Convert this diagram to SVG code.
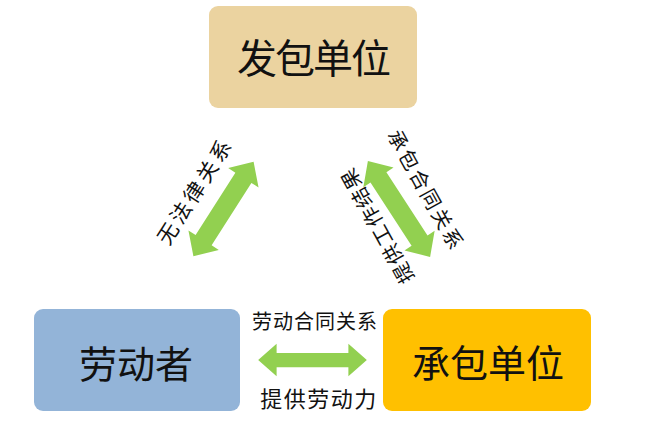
<svg xmlns="http://www.w3.org/2000/svg" width="660" height="421" viewBox="0 0 660 421">
  <style>
    .box-text { font-family: "Noto Sans CJK SC", "Noto Sans", sans-serif; fill: #111; text-anchor: middle; dominant-baseline: central; }
    .label { font-family: "Noto Sans CJK SC", "Noto Sans", sans-serif; fill: #111; text-anchor: middle; dominant-baseline: central; }
    .arrow { fill: #92D050; }
  </style>
  <defs>
    <path id="dbl" d="M-56,0 L-37,-17 L-37,-7.5 L37,-7.5 L37,-17 L56,0 L37,17 L37,7.5 L-37,7.5 L-37,17 Z"/>
    <path id="dbl-diag" d="M-56,0 L-37,-18 L-37,-9.5 L37,-9.5 L37,-18 L56,0 L37,18 L37,9.5 L-37,9.5 L-37,18 Z"/>
  </defs>
  <rect width="660" height="421" fill="#ffffff"/>

  <g id="node-fabao">
    <rect x="209" y="6" width="208" height="102" rx="9" fill="#EBD3A0"/>
    <text class="box-text" x="313" y="56" font-size="40" letter-spacing="-2">发包单位</text>
  </g>

  <g id="node-laodongzhe">
    <rect x="34" y="309" width="206" height="102" rx="9" fill="#93B4D8"/>
    <text class="box-text" x="136" y="361" font-size="38">劳动者</text>
  </g>

  <g id="node-chengbao">
    <rect x="383" y="309" width="208" height="102" rx="9" fill="#FFC000"/>
    <text class="box-text" x="488" y="360" font-size="38">承包单位</text>
  </g>

  <g id="connectors">
    <use href="#dbl-diag" class="arrow" transform="translate(223.5,209) rotate(-57.5)"/>
    <use href="#dbl-diag" class="arrow" transform="translate(399,209) rotate(57) scale(1.02,1)"/>
    <use href="#dbl" class="arrow" transform="translate(312.5,360) scale(0.97,0.95)"/>
    <text class="label" font-size="21" letter-spacing="3.5" transform="translate(194,190) rotate(-57.5)">无法律关系</text>
    <text class="label" font-size="20" letter-spacing="2.5" transform="translate(427,190) rotate(61)">承包合同关系</text>
    <text class="label" font-size="20" letter-spacing="1.5" transform="translate(376,226) rotate(-119)">提供工作结果</text>
    <text class="label" x="315" y="320" font-size="20" letter-spacing="1">劳动合同关系</text>
    <text class="label" x="319" y="397" font-size="22" letter-spacing="1.5">提供劳动力</text>
  </g>
</svg>
